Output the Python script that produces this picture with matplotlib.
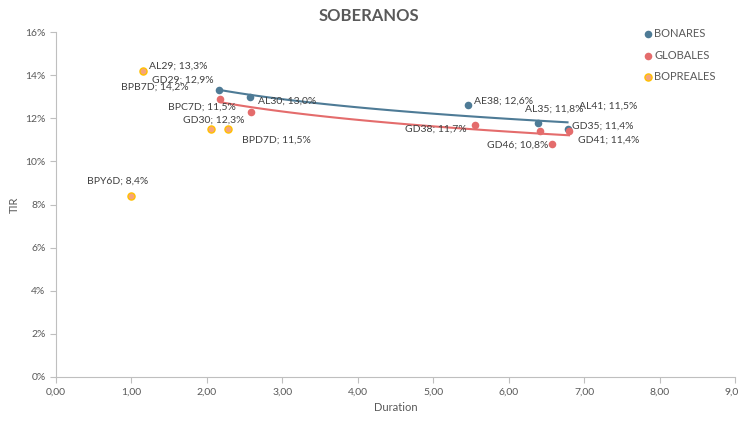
import numpy as np
import matplotlib
matplotlib.use("Agg")
import matplotlib.pyplot as plt
from matplotlib.ticker import FuncFormatter, MultipleLocator

plt.rcParams['font.family'] = ['Lato', 'DejaVu Sans']

# ---- data ----
bonares_names = ["AL29", "AL30", "AE38", "AL35", "AL41"]
bonares_dur = [2.165, 2.57, 5.46, 6.39, 6.78]
bonares_tir = [13.3, 13.0, 12.6, 11.8, 11.5]

globales_names = ["GD29", "GD30", "GD38", "GD35", "GD46", "GD41"]
globales_dur = [2.17, 2.59, 5.55, 6.42, 6.57, 6.80]
globales_tir = [12.9, 12.3, 11.7, 11.4, 10.8, 11.4]

bopreales_names = ["BPB7D", "BPC7D", "BPD7D", "BPY6D"]
bopreales_dur = [1.15, 2.06, 2.28, 1.00]
bopreales_tir = [14.2, 11.5, 11.5, 8.4]

# label offsets (pixels) from each point
bonares_off = [(-70, 24), (8, -4), (6, 4), (-13, 13), (11, 23)]
globales_off = [(-68, 19), (-68, -8), (-70, -4), (32, 5), (-65, -1), (9, -9)]
bopreales_off = [(-22, -16), (-43, 22), (14, -11), (-44, 15)]

BLUE = "#4E7B96"
RED = "#E46C6C"
ORANGE_FILL = "#F6A47A"
ORANGE_EDGE = "#FFC000"
GRAY = "#595959"

fig = plt.figure(figsize=(7.38, 4.24), dpi=100)
ax = fig.add_axes([56/738, 1-377/424, (735-56)/738, (377-32)/424])


def fmt_pct(v):
    return f"{v:.1f}".replace(".", ",") + "%"


def log_trend(xs, ys, color):
    xs = np.asarray(xs, float)
    ys = np.asarray(ys, float)
    a, b = np.polyfit(np.log(xs), ys, 1)
    xx = np.linspace(xs.min(), xs.max(), 100)
    ax.plot(xx, a*np.log(xx) + b, color=color, lw=1.5, zorder=2)


log_trend(bonares_dur, bonares_tir, BLUE)
log_trend(globales_dur, globales_tir, RED)

ax.scatter(bonares_dur, bonares_tir, s=30, color=BLUE, zorder=3, label="BONARES", linewidths=0)
ax.scatter(globales_dur, globales_tir, s=30, color=RED, zorder=3, label="GLOBALES", linewidths=0)
ax.scatter(bopreales_dur, bopreales_tir, s=26, facecolor=ORANGE_FILL, edgecolor=ORANGE_EDGE,
           linewidths=1.0, zorder=3, label="BOPREALES")

for names, xs, ys, offs in [(bonares_names, bonares_dur, bonares_tir, bonares_off),
                            (globales_names, globales_dur, globales_tir, globales_off),
                            (bopreales_names, bopreales_dur, bopreales_tir, bopreales_off)]:
    for n, x, y, o in zip(names, xs, ys, offs):
        ax.annotate(f"{n}; {fmt_pct(y)}", xy=(x, y), xytext=o, textcoords="offset pixels",
                    ha="left", va="center", fontsize=7.5, color="#404040", zorder=4)

ax.set_xlim(0, 9)
ax.set_ylim(0, 16)
ax.xaxis.set_major_locator(MultipleLocator(1))
ax.yaxis.set_major_locator(MultipleLocator(2))
ax.xaxis.set_major_formatter(FuncFormatter(lambda v, p: f"{v:.2f}".replace(".", ",")))
ax.yaxis.set_major_formatter(FuncFormatter(lambda v, p: f"{int(round(v))}%"))

for side in ["top", "right"]:
    ax.spines[side].set_visible(False)
for side in ["left", "bottom"]:
    ax.spines[side].set_color("#BFBFBF")
    ax.spines[side].set_linewidth(0.8)
ax.tick_params(axis="both", colors="#BFBFBF", labelcolor=GRAY, labelsize=7.5, length=4, width=0.8)

ax.set_xlabel("Duration", fontsize=8, color=GRAY, labelpad=4)
ax.set_ylabel("TIR", fontsize=8, color=GRAY, labelpad=4)
fig.text(369/738, 1-16/424, "SOBERANOS", ha="center", va="center", fontsize=12,
         fontweight="bold", color=GRAY)

leg = ax.legend(loc="upper left", bbox_to_anchor=(641/738, 1-28/424), bbox_transform=fig.transFigure,
                frameon=False, fontsize=8, handletextpad=0.0, labelspacing=0.95,
                handlelength=1.2, borderpad=0, borderaxespad=0)
for t in leg.get_texts():
    t.set_color(GRAY)

fig.savefig("out.png", dpi=100)
